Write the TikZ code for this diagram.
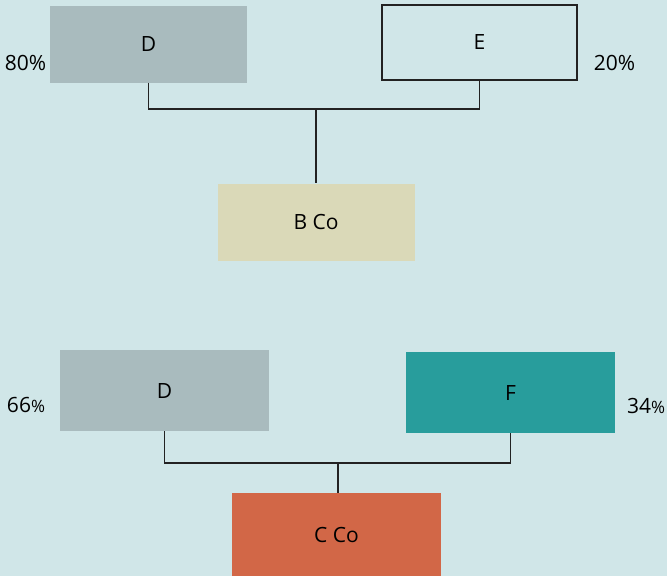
\documentclass[tikz,border=0pt]{standalone}
\usepackage{fontspec}
\setmainfont{Open Sans}
\definecolor{bgteal}{HTML}{D0E6E8}
\definecolor{dgrey}{HTML}{A9BBBE}
\definecolor{bsand}{HTML}{DAD9B8}
\definecolor{fteal}{HTML}{289D9C}
\definecolor{corange}{HTML}{D26747}
\definecolor{linek}{HTML}{222222}
\newcommand{\smallpct}{{\fontsize{17}{19}\selectfont\%}}

\begin{document}
\begin{tikzpicture}[x=1pt,y=-1pt,
    company/.style={rectangle,inner sep=0pt,minimum width=197,minimum height=77,font=\fontsize{21}{25}\selectfont},
    bigbox/.style={company,minimum width=209,minimum height=81},
    share/.style={inner sep=0pt,font=\fontsize{21}{25}\selectfont},
    link/.style={draw=linek,line width=1.8pt}]
    \fill[bgteal] (0,0) rectangle (667,576);
    \useasboundingbox (0,0) rectangle (667,576);
    \node[company,fill=dgrey] (dtop) at (148.5,44) {D};
    \node[company,draw=linek,line width=1.8pt,minimum width=195,minimum height=75] (etop) at (479.5,42.5) {E};
    \node[company,fill=bsand] (bco) at (316,222) {B Co};
    \node[share] (pdtop) at (25.5,62.5) {80\%};
    \node[share] (petop) at (614.5,62.5) {20\%};
    \coordinate (jtop) at (316,109);
    \draw[link] (dtop.south) |- (jtop) -| (etop.south);
    \draw[link] (jtop) -- (bco.north);
    \node[bigbox,fill=dgrey] (dlow) at (164.5,390.5) {D};
    \node[bigbox,fill=fteal] (flow) at (510.5,392.5) {F};
    \node[bigbox,fill=corange,minimum height=83] (cco) at (336.5,534.5) {C Co};
    \node[share] (pdlow) at (26,405) {66\smallpct};
    \node[share] (pflow) at (646,405.5) {34\smallpct};
    \coordinate (jlow) at (338,463);
    \draw[link] (dlow.south) |- (jlow) -| (flow.south);
    \draw[link] (jlow) -- (jlow |- cco.north);
\end{tikzpicture}
\end{document}
